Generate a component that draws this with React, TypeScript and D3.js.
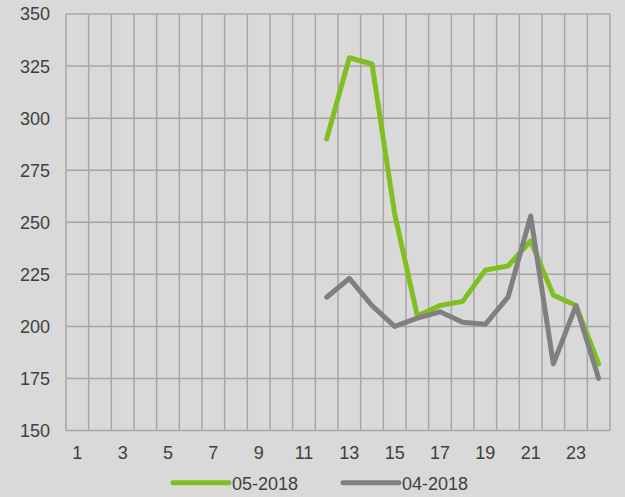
import React from 'react';
import * as d3 from 'd3';

const days = d3.range(1, 25);
const may2018 = [null, null, null, null, null, null, null, null, null, null, null,
  290, 329, 326, 254, 205, 210, 212, 227, 229, 241, 215, 210, 182];
const apr2018 = [null, null, null, null, null, null, null, null, null, null, null,
  214, 223, 210, 200, 204, 207, 202, 201, 214, 253, 182, 210, 175];
const yTicks = [150, 175, 200, 225, 250, 275, 300, 325, 350];
const seriesNames = ['05-2018', '04-2018'];
const seriesColors = ['#80bf22', '#808080'];

const W = 625;
const H = 497;
const margin = { top: 14, right: 15, bottom: 66.5, left: 66 };
const innerW = W - margin.left - margin.right;
const innerH = H - margin.top - margin.bottom;

const font = '"Liberation Sans", Arial, sans-serif';

export default function App() {
  const x = d3.scaleBand<number>().domain(days).range([0, innerW]);
  const y = d3.scaleLinear().domain([150, 350]).range([innerH, 0]);

  const line = d3.line<number | null>()
    .defined(d => d != null)
    .x((d, i) => x(days[i])! + x.bandwidth() / 2)
    .y(d => y(d as number));

  const series = [may2018, apr2018];
  const legendX = [173, 343];

  return (
    <svg width={W} height={H} style={{ position: 'absolute', left: 0, top: 0, background: '#d9d9d9' }}>
      <rect width={W} height={H} fill="#d9d9d9" />
      <g transform={`translate(${margin.left},${margin.top})`}>
        {yTicks.map(t => (
          <line key={'h' + t} x1={0} x2={innerW} y1={y(t)} y2={y(t)} stroke="#a6a6a6" strokeWidth={1.5} />
        ))}
        {[...days, 25].map(d => {
          const xx = d === 25 ? innerW : x(d)!;
          return <line key={'v' + d} x1={xx} x2={xx} y1={0} y2={innerH} stroke="#a6a6a6" strokeWidth={1.5} />;
        })}
        {yTicks.map(t => (
          <text key={'yl' + t} x={-16} y={y(t)} dy="0.36em" textAnchor="end"
            fontFamily={font} fontSize={18} fill="#404040">{t}</text>
        ))}
        {days.filter(d => d % 2 === 1).map(d => (
          <text key={'xl' + d} x={x(d)! + x.bandwidth() / 2} y={innerH + 28.5} textAnchor="middle"
            fontFamily={font} fontSize={18} fill="#404040">{d}</text>
        ))}
        {series.map((s, i) => (
          <path key={'s' + i} d={line(s) || ''} fill="none" stroke={seriesColors[i]}
            strokeWidth={5} strokeLinecap="round" strokeLinejoin="round" />
        ))}
      </g>
      {seriesNames.map((name, i) => (
        <g key={'lg' + i}>
          <line x1={legendX[i]} x2={legendX[i] + 56} y1={482.7} y2={482.7}
            stroke={seriesColors[i]} strokeWidth={5} strokeLinecap="round" />
          <text x={legendX[i] + 59} y={489.5} fontFamily={font} fontSize={18} fill="#404040">{name}</text>
        </g>
      ))}
    </svg>
  );
}
